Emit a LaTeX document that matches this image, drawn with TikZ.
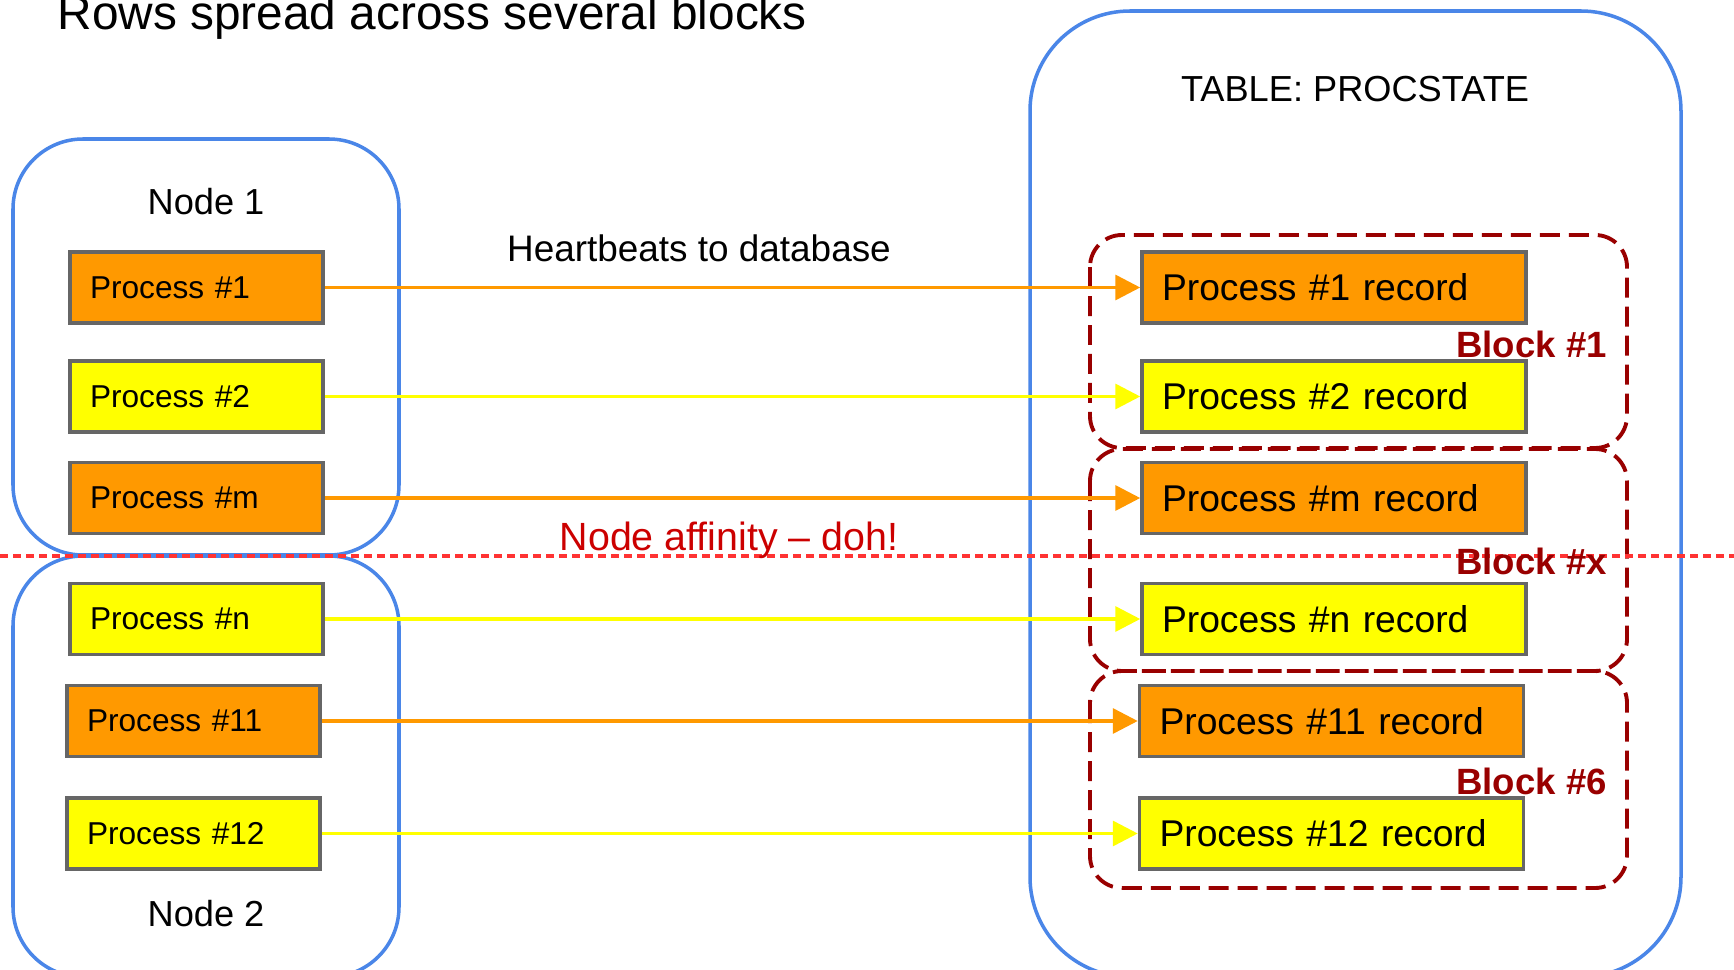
\documentclass[tikz,border=0pt]{standalone}
\usepackage{fontspec}
\setmainfont{Liberation Sans}
\usetikzlibrary{arrows.meta}
\definecolor{hostblue}{HTML}{4A86E8}
\definecolor{boxgray}{HTML}{666666}
\definecolor{procorange}{HTML}{FF9900}
\definecolor{procyellow}{HTML}{FFFF00}
\definecolor{blockred}{HTML}{990000}
\definecolor{affinity}{HTML}{FF3333}
\definecolor{affinitytext}{HTML}{CC0000}
\tikzset{
  host panel/.style={draw=hostblue,line width=1pt,rounded corners=0.7cm},
  table panel/.style={draw=hostblue,line width=1pt,rounded corners=1.0cm},
  block frame/.style={draw=blockred,line width=1.1pt,dash pattern=on 0.2cm off 0.09cm,rounded corners=0.32cm},
  proc box/.style={draw=boxgray,line width=1pt,minimum height=0.71cm,inner xsep=0.2cm,
    text width=2.13cm,align=left,font=\fontsize{9}{11}\selectfont},
  record box/.style={draw=boxgray,line width=1pt,minimum height=0.71cm,inner xsep=0.2cm,
    text width=3.44cm,align=left,font=\fontsize{10.6}{12.5}\selectfont},
  beat arrow/.style={line width=1pt,-{Triangle[length=2.5mm,width=2.5mm]}},
  block label/.style={anchor=base west,text=blockred,font=\bfseries\fontsize{10.4}{12}\selectfont},
  host label/.style={anchor=base,font=\fontsize{10.3}{12}\selectfont}
}
\begin{document}
\begin{tikzpicture}[x=1cm,y=1cm]
  \path[use as bounding box] (0,0) rectangle (17.34,9.69);
  \fill[white] (0,0) rectangle (17.34,9.69);

  \node[anchor=base west,inner sep=0pt,font=\fontsize{13.6}{16}\selectfont]
    (title) at (0.57,9.395) {Rows spread across several blocks};

  % Hosts and the table.
  \draw[host panel] (0.13,4.14) rectangle (3.99,8.30);
  \draw[host panel] (0.13,-0.08) rectangle (3.99,4.13);
  \draw[table panel] (10.30,-0.08) rectangle (16.81,9.58);

  \node[host label] (node1) at (2.06,7.55) {Node 1};
  \node[host label] (node2) at (2.06,0.43) {Node 2};
  \node[host label] (tbl) at (13.55,8.67) {TABLE: PROCSTATE};

  % Database blocks.
  \draw[block frame] (10.90,7.34) rectangle (16.27,5.21);
  \draw[block frame] (10.90,5.20) rectangle (16.27,2.98);
  \draw[block frame] (10.90,2.98) rectangle (16.27,0.81);

  % Node boundary.
  \draw[affinity,line width=1.2pt,dash pattern=on 0.08cm off 0.05cm] (0,4.13) -- (17.34,4.13);

  \node[block label] (blk1) at (14.44,6.12) {Block \#1};
  \node[block label] (blkx) at (14.44,3.95) {Block \#x};
  \node[block label] (blk6) at (14.44,1.75) {Block \#6};

  % Processes on the hosts.
  \node[proc box,fill=procorange] (p1) at (1.965,6.815) {Process \#1};
  \node[proc box,fill=procyellow] (p2) at (1.965,5.725) {Process \#2};
  \node[proc box,fill=procorange] (pm) at (1.965,4.71) {Process \#m};
  \node[proc box,fill=procyellow] (pn) at (1.965,3.50) {Process \#n};
  \node[proc box,fill=procorange] (p11) at (1.935,2.48) {Process \#11};
  \node[proc box,fill=procyellow] (p12) at (1.935,1.355) {Process \#12};

  % Their rows in the table.
  \node[record box,fill=procorange] (r1) at (13.34,6.815) {Process \#1 record};
  \node[record box,fill=procyellow] (r2) at (13.34,5.725) {Process \#2 record};
  \node[record box,fill=procorange] (rm) at (13.34,4.71) {Process \#m record};
  \node[record box,fill=procyellow] (rn) at (13.34,3.50) {Process \#n record};
  \node[record box,fill=procorange] (r11) at (13.315,2.48) {Process \#11 record};
  \node[record box,fill=procyellow] (r12) at (13.315,1.355) {Process \#12 record};

  \draw[beat arrow,procorange] (p1) -- (r1);
  \draw[beat arrow,procyellow] (p2) -- (r2);
  \draw[beat arrow,procorange] (pm) -- (rm);
  \draw[beat arrow,procyellow] (pn) -- (rn);
  \draw[beat arrow,procorange] (p11) -- (r11);
  \draw[beat arrow,procyellow] (p12) -- (r12);

  \node[anchor=base,font=\fontsize{10.5}{12.5}\selectfont] (beats) at (6.99,7.07)
    {Heartbeats to database};
  \node[anchor=base,text=affinitytext,font=\fontsize{11.2}{13}\selectfont] (doh) at (7.29,4.19)
    {Node affinity -- doh!};
\end{tikzpicture}
\end{document}
